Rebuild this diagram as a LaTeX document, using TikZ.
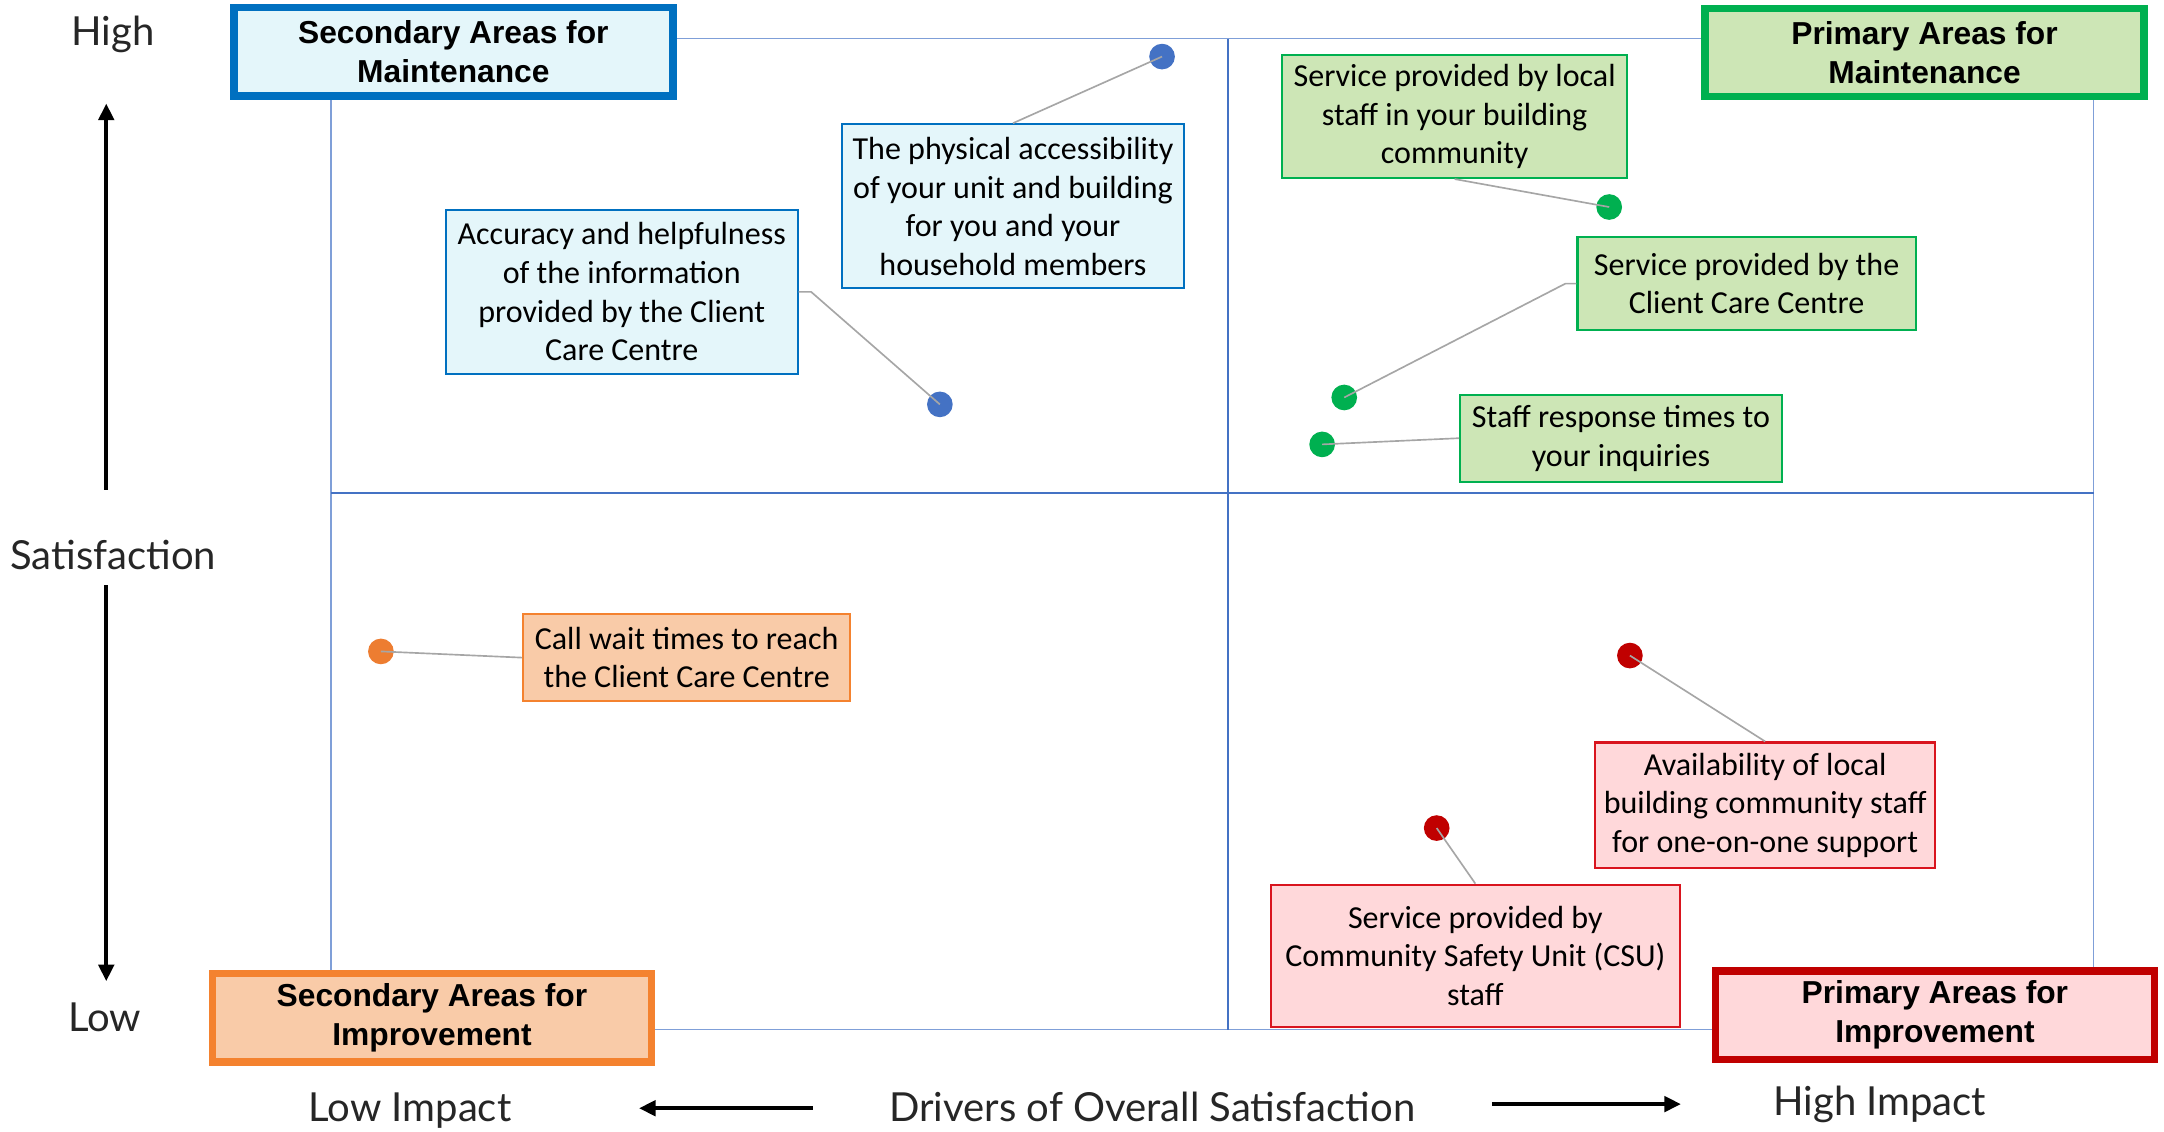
\documentclass[tikz,border=0pt]{standalone}
\usepackage{fontspec}
\setmainfont{Carlito}
\newfontfamily\titlefont{Liberation Sans}
\newfontfamily\axisfont{Lato}
\usetikzlibrary{arrows.meta}

\definecolor{gridblue}{HTML}{4472C4}
\definecolor{gridlight}{HTML}{7F9FD8}
\definecolor{bluedark}{HTML}{0070C0}
\definecolor{bluefill}{HTML}{E4F6FA}
\definecolor{bluedot}{HTML}{4472C4}
\definecolor{greendark}{HTML}{00B050}
\definecolor{greenfill}{HTML}{CDE6B6}
\definecolor{orangedark}{HTML}{F4822F}
\definecolor{orangefill}{HTML}{F9CBA8}
\definecolor{orangedot}{HTML}{ED7D31}
\definecolor{reddark}{HTML}{C00000}
\definecolor{redline}{HTML}{D9141E}
\definecolor{redfill}{HTML}{FFD8DA}
\definecolor{connector}{HTML}{A6A6A6}
\definecolor{axistext}{HTML}{262626}

\begin{document}
\begin{tikzpicture}[x=0.5bp, y=-0.5bp,
  item/.style={draw, line width=0.75bp, inner sep=0pt, align=center,
    font=\fontsize{11.6bp}{14bp}\selectfont},
  quadtitle/.style={draw, line width=2.7bp, inner sep=0pt,
    minimum width=159bp, minimum height=32bp, align=center,
    font=\titlefont\bfseries\fontsize{11.5bp}{14bp}\selectfont},
  axislabel/.style={font=\axisfont\fontsize{14.5bp}{17bp}\selectfont,
    text=axistext, inner sep=0pt},
  dot/.style={circle, inner sep=0pt, minimum size=9.3bp},
  conn/.style={draw=connector, line width=0.6bp},
  axisarrow/.style={line width=1.5bp, -{Triangle[length=6bp,width=5.5bp]}}
]
\useasboundingbox (0,0) rectangle (1568,820);

% quadrant grid
\draw[gridlight, line width=0.6bp] (240,28) rectangle (1517,746);
\draw[gridblue, line width=0.8bp] (890,28) -- (890,746);
\draw[gridblue, line width=0.8bp] (240,357) -- (1517,357);

% quadrant titles
\node[quadtitle, draw=bluedark, fill=bluefill] (tsm) at (328.5,37.5)
  {Secondary Areas for\\Maintenance};
\node[quadtitle, draw=greendark, fill=greenfill] (tpm) at (1394.5,38)
  {Primary Areas for\\Maintenance};
\node[quadtitle, draw=orangedark, fill=orangefill] (tsi) at (313,737.5)
  {Secondary Areas for\\Improvement};
\node[quadtitle, draw=reddark, fill=redfill] (tpi) at (1402,735.5)
  {Primary Areas for\\Improvement};

% data points
\node[dot, fill=bluedot]   (d1) at (681,293)  {};
\node[dot, fill=bluedot]   (d2) at (842,41)   {};
\node[dot, fill=greendark] (d3) at (1166,150) {};
\node[dot, fill=greendark] (d4) at (974,288)  {};
\node[dot, fill=greendark] (d5) at (958,322)  {};
\node[dot, fill=orangedot] (d6) at (276,472)  {};
\node[dot, fill=reddark]   (d7) at (1181,475) {};
\node[dot, fill=reddark]   (d8) at (1041,600) {};

% labels
\node[item, draw=bluedark, fill=bluefill, minimum width=127.5bp, minimum height=59.5bp]
  (b1) at (450.5,211.5)
  {Accuracy and helpfulness\\of the information\\provided by the Client\\Care Centre};
\node[item, draw=bluedark, fill=bluefill, minimum width=124bp, minimum height=59.5bp]
  (b2) at (734,149.5)
  {The physical accessibility\\of your unit and building\\for you and your\\household members};
\node[item, draw=greendark, fill=greenfill, minimum width=125bp, minimum height=44.5bp]
  (b3) at (1054,84.5)
  {Service provided by local\\staff in your building\\community};
\node[item, draw=greendark, fill=greenfill, minimum width=122.5bp, minimum height=33.5bp]
  (b4) at (1265.5,205.5)
  {Service provided by the\\Client Care Centre};
\node[item, draw=greendark, fill=greenfill, minimum width=116.5bp, minimum height=31.5bp]
  (b5) at (1174.5,317.5)
  {Staff response times to\\your inquiries};
\node[item, draw=orangedark, fill=orangefill, minimum width=118.5bp, minimum height=31.5bp]
  (b6) at (497.5,476.5)
  {Call wait times to reach\\the Client Care Centre};
\node[item, draw=redline, fill=redfill, minimum width=123bp, minimum height=45.5bp]
  (b7) at (1279,583.5)
  {Availability of local\\building community staff\\for one-on-one support};
\node[item, draw=redline, fill=redfill, minimum width=148bp, minimum height=51.5bp]
  (b8) at (1069,692.5)
  {Service provided by\\Community Safety Unit (CSU)\\staff};

% leader lines
\draw[conn] (b1.east) -- ++(9,0) -- (d1.center);
\draw[conn] (b2.north) -- (d2.center);
\draw[conn] (b3.south) -- (d3.center);
\draw[conn] (b4.west) -- ++(-8,0) -- (d4.center);
\draw[conn] (b5.west) -- (d5.center);
\draw[conn] (b6.west) -- (d6.center);
\draw[conn] (b7.north) -- (d7.center);
\draw[conn] (b8.north) -- (d8.center);

% vertical axis
\node[axislabel] (high) at (82,25) {High};
\node[axislabel] (sat) at (82,402) {Satisfaction};
\node[axislabel] (low) at (76,737) {Low};
\coordinate (uptip) at (77,75);
\coordinate (downtip) at (77,711);
\draw[axisarrow] (77,355) -- (uptip);
\draw[axisarrow] (77,424) -- (downtip);

% horizontal axis
\node[axislabel] (lowimp) at (297,805) {Low Impact};
\node[axislabel] (drivers) at (835,802) {Drivers of Overall Satisfaction};
\node[axislabel] (highimp) at (1362,800) {High Impact};
\coordinate (lefttip) at (463,803);
\coordinate (righttip) at (1218,800);
\draw[axisarrow] (589,803) -- (lefttip);
\draw[axisarrow] (1081,800) -- (righttip);
\end{tikzpicture}
\end{document}
